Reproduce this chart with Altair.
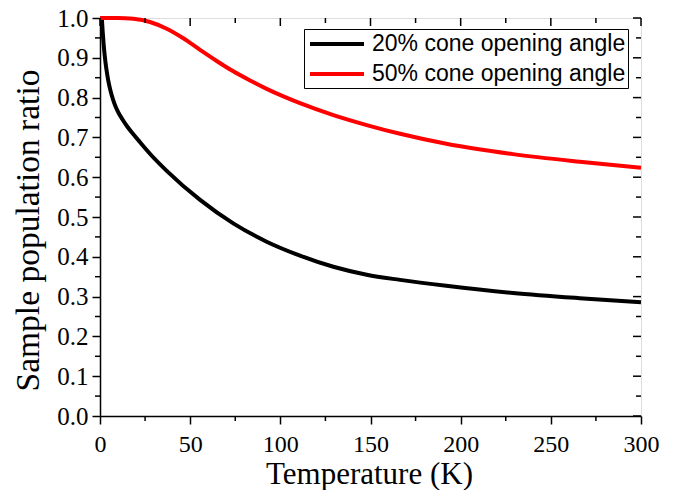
import altair as alt
import pandas as pd

# ---- data ----
T_20 = [1, 1.5, 2, 3, 4, 5, 6.5, 8, 10, 12.5, 15, 18.5, 22, 27.7, 37, 55.5, 73.9, 92.4,
        110.9, 129.4, 147.9, 166.4, 192, 229, 266, 300]
V_20 = [1.0, 0.965, 0.935, 0.89, 0.858, 0.833, 0.806, 0.785, 0.764, 0.745, 0.728, 0.708, 0.689, 0.659, 0.616, 0.543, 0.484, 0.438,
        0.403, 0.375, 0.355, 0.342, 0.327, 0.309, 0.296, 0.286]

T_50 = [0, 10, 14, 18.5, 27.7, 37, 46.2, 55.5, 64.7, 73.9, 83.2, 92.4, 101.7, 110.9,
        129.4, 147.9, 166.4, 192, 229, 266, 300]
V_50 = [1.0, 1.0, 0.9995, 0.998, 0.990, 0.973, 0.949, 0.920, 0.892, 0.866, 0.843, 0.822, 0.803, 0.786,
        0.756, 0.731, 0.709, 0.684, 0.658, 0.639, 0.624]

SERIES = ["20% cone opening angle", "50% cone opening angle"]
COLORS = ["#000000", "#ff0000"]

X_TICKS = [0.0, 50.0, 100.0, 150.0, 200.0, 250.0, 300.0]
Y_TICKS = [0.0, 0.1, 0.2, 0.3, 0.4, 0.5, 0.6, 0.7, 0.8, 0.9, 1.0]
X_MINOR = [(a + b) / 2 for a, b in zip(X_TICKS[:-1], X_TICKS[1:])]
Y_MINOR = [round((a + b) / 2, 3) for a, b in zip(Y_TICKS[:-1], Y_TICKS[1:])]

W, H = 541, 398

df = pd.concat([
    pd.DataFrame({"T": T_20, "V": V_20, "s": SERIES[0]}),
    pd.DataFrame({"T": T_50, "V": V_50, "s": SERIES[1]}),
])

xs = alt.Scale(domain=[0, 300], nice=False, zero=False)
ys = alt.Scale(domain=[0, 1], nice=False, zero=False)

serif = "Liberation Serif"

x_axis = alt.Axis(
    values=X_TICKS, title="Temperature (K)", grid=False,
    titleFont=serif, titleFontSize=31, titleFontWeight="normal", titleColor="black",
    titleX=269, titleY=67, titleBaseline="alphabetic", titleAlign="center",
    labelFont=serif, labelFontSize=24, labelColor="black",
    labelBaseline="alphabetic", labelPadding=27, labelFlush=False, labelOverlap=False,
    tickSize=8, tickWidth=1.5, tickColor="black",
    domainColor="black", domainWidth=1.5,
)
y_axis = alt.Axis(
    values=Y_TICKS, format=".1f", title="Sample population ratio", grid=False,
    titleFont=serif, titleFontSize=33.5, titleFontWeight="normal", titleColor="black",
    titleX=-62, titleY=212, titleAngle=270, titleBaseline="alphabetic", titleAlign="center",
    labelFont=serif, labelFontSize=25, labelColor="black",
    labelPadding=4, labelFlush=False, labelOverlap=False,
    tickSize=8, tickWidth=1.5, tickColor="black",
    domainColor="black", domainWidth=1.5,
)

lines = alt.Chart(df).mark_line(strokeWidth=4, interpolate="monotone").encode(
    x=alt.X("T:Q", scale=xs, axis=x_axis),
    y=alt.Y("V:Q", scale=ys, axis=y_axis),
    color=alt.Color(
        "s:N",
        scale=alt.Scale(domain=SERIES, range=COLORS),
        sort=SERIES,
        legend=alt.Legend(
            title=None, orient="none", legendX=204, legendY=11,
            symbolType="M-2.5,0H2.5", symbolSize=467, symbolStrokeWidth=4,
            symbolOffset=18, labelOffset=22,
            labelFont="Liberation Sans", labelFontSize=23, labelColor="black",
            labelLimit=500, padding=2, rowPadding=5,
            strokeColor="black", fillColor="white",
        ),
    ),
    detail="s:N",
)


def xrule(vals, y1, y2):
    return alt.Chart(pd.DataFrame({"T": vals})).mark_rule(color="black", strokeWidth=1.5).encode(
        x=alt.X("T:Q", scale=xs, axis=x_axis),
        y=alt.value(y1), y2=alt.value(y2),
    )


def yrule(vals, x1, x2):
    return alt.Chart(pd.DataFrame({"V": vals})).mark_rule(color="black", strokeWidth=1.5).encode(
        y=alt.Y("V:Q", scale=ys, axis=y_axis),
        x=alt.value(x1), x2=alt.value(x2),
    )


ticks = [
    xrule(X_TICKS, 0, 8),          # top major (inward)
    xrule(X_MINOR, 0, 5),          # top minor (inward)
    xrule(X_MINOR, H, H + 5),      # bottom minor (outward)
    yrule(Y_TICKS, W, W - 8),      # right major (inward)
    yrule(Y_MINOR, W, W - 5),      # right minor (inward)
    yrule(Y_MINOR, 0, -5),         # left minor (outward)
]

chart = alt.layer(lines, *ticks).properties(
    width=W, height=H,
    autosize="none",
    padding={"left": 92, "top": 10, "right": 20, "bottom": 74},
).configure_view(stroke="black", strokeWidth=1.5).configure(background="white")

chart.save("out.html", embed_options={"renderer": "svg", "actions": False})
